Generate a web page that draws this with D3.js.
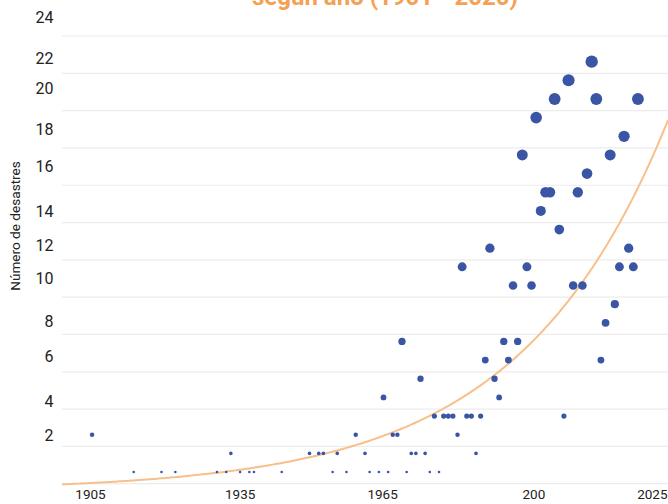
<!DOCTYPE html>
<html>
<head>
<meta charset="utf-8">
<script src="https://cdn.jsdelivr.net/npm/d3@7"></script>
<style>
  html, body { margin: 0; padding: 0; background: #ffffff; }
  svg { display: block; font-family: Roboto, "Noto Sans", sans-serif; }
</style>
</head>
<body>
<svg id="chart" width="668" height="504"></svg>
<script>
// ---- data ----
const years = [1905,1914,1920,1923,1932,1934,1935,1937,1939,1940,1946,1952,1954,1955,1957,1958,1960,1962,1964,1965,1967,1968,1969,1970,1971,1972,1973,1974,1975,1976,1977,1978,1979,1980,1981,1982,1983,1984,1985,1986,1987,1988,1989,1990,1991,1992,1993,1994,1995,1996,1997,1998,1999,2000,2001,2002,2003,2004,2005,2006,2007,2008,2009,2010,2011,2012,2013,2014,2015,2016,2017,2018,2019,2020,2021,2022,2023];
const disasters = [3,1,1,1,1,1,2,1,1,1,1,2,2,2,1,2,1,3,2,1,1,5,1,3,3,8,1,2,2,6,2,1,4,1,4,4,4,3,12,4,4,2,4,7,13,6,5,8,7,11,8,18,12,11,20,15,16,16,21,14,4,22,11,16,11,17,23,21,7,9,18,10,12,19,13,12,21];
const gridValues = [0,2,4,6,8,10,12,14,16,18,20,22,24];
const yTickLabels = ["2","4","6","8","10","12","14","16","18","20","22","24"];
const yTickAt = [2.6,4.4,6.8,8.7,11.0,12.8,14.6,17.0,19.0,21.2,22.8,25.0];
const xTickLabels = ["1905","1935","1965","200","2025"];
const xTickAt = [1904.55,1936.9,1967.7,2000.4,2026.0];
const titleText = "según año (1901 - 2020)";
const yTitle = "Número de desastres";

(function () {
// ---- layout ----
const W = 668, H = 504;
const mLeft = 62, mRight = 668, mTop = 36, mBottom = 483.7;
const svg = d3.select("#chart");
svg.append("rect").attr("width", W).attr("height", H).attr("fill", "#fff");

const x = d3.scaleLinear().domain([1898.5, 2029.5]).range([mLeft, mRight]);
const y = d3.scaleLinear().domain([0, 24]).range([mBottom, mTop]);
const r = d3.scaleSqrt().domain([0, 23]).range([0, 6.2]);

// gridlines
svg.append("g")
  .selectAll("line").data(gridValues).join("line")
  .attr("x1", mLeft).attr("x2", mRight)
  .attr("y1", d => y(d)).attr("y2", d => y(d))
  .attr("stroke", "#ececec").attr("stroke-width", 1.2);

// y tick labels
const yAxis = d3.axisLeft(y).tickValues(yTickAt).tickSize(0).tickPadding(0)
  .tickFormat((d, i) => yTickLabels[i]);
const gy = svg.append("g").attr("transform", "translate(53.5,0)").call(yAxis);
gy.select(".domain").remove();
gy.selectAll("text").attr("font-size", 16).attr("fill", "#222")
  .attr("font-family", "Roboto, sans-serif");

// x tick labels
const xAxis = d3.axisBottom(x).tickValues(xTickAt).tickSize(0).tickPadding(0)
  .tickFormat((d, i) => xTickLabels[i]);
const gx = svg.append("g").attr("transform", "translate(0,489)").call(xAxis);
gx.select(".domain").remove();
gx.selectAll("text").attr("font-size", 13.5).attr("fill", "#222")
  .attr("font-family", "Roboto, sans-serif");

// y title
svg.append("text")
  .attr("transform", "translate(20,226) rotate(-90)")
  .attr("text-anchor", "middle")
  .attr("font-size", 13.6).attr("fill", "#222")
  .text(yTitle);

// title (only the lower part is visible in the frame, as in the reference)
svg.append("text")
  .attr("x", 385).attr("y", 5)
  .attr("text-anchor", "middle")
  .attr("font-size", 24).attr("font-weight", "bold").attr("fill", "#f5a052")
  .text(titleText);

// plot group (marks sit slightly below the grid values, as in the reference)
const plot = svg.append("g").attr("transform", "translate(0,7)");

// exponential trend fitted to the data (log-linear least squares)
const n = years.length;
const ly = disasters.map(Math.log);
const mx = d3.mean(years), my = d3.mean(ly);
let sxy = 0, sxx = 0;
for (let i = 0; i < n; i++) { sxy += (years[i]-mx)*(ly[i]-my); sxx += (years[i]-mx)**2; }
const b = sxy / sxx, a = my - b * mx;
const trendYears = d3.range(1898.5, 2029.51, 0.5);
const line = d3.line().x(t => x(t)).y(t => y(Math.exp(a + b * t)));
plot.append("path").datum(trendYears)
  .attr("d", line).attr("fill", "none")
  .attr("stroke", "#f7c08a").attr("stroke-width", 2);

// points
plot.append("g").selectAll("circle").data(years).join("circle")
  .attr("cx", d => x(d))
  .attr("cy", (d, i) => y(disasters[i]))
  .attr("r", (d, i) => r(disasters[i]))
  .attr("fill", "#3a55a4");
})();
</script>
</body>
</html>
